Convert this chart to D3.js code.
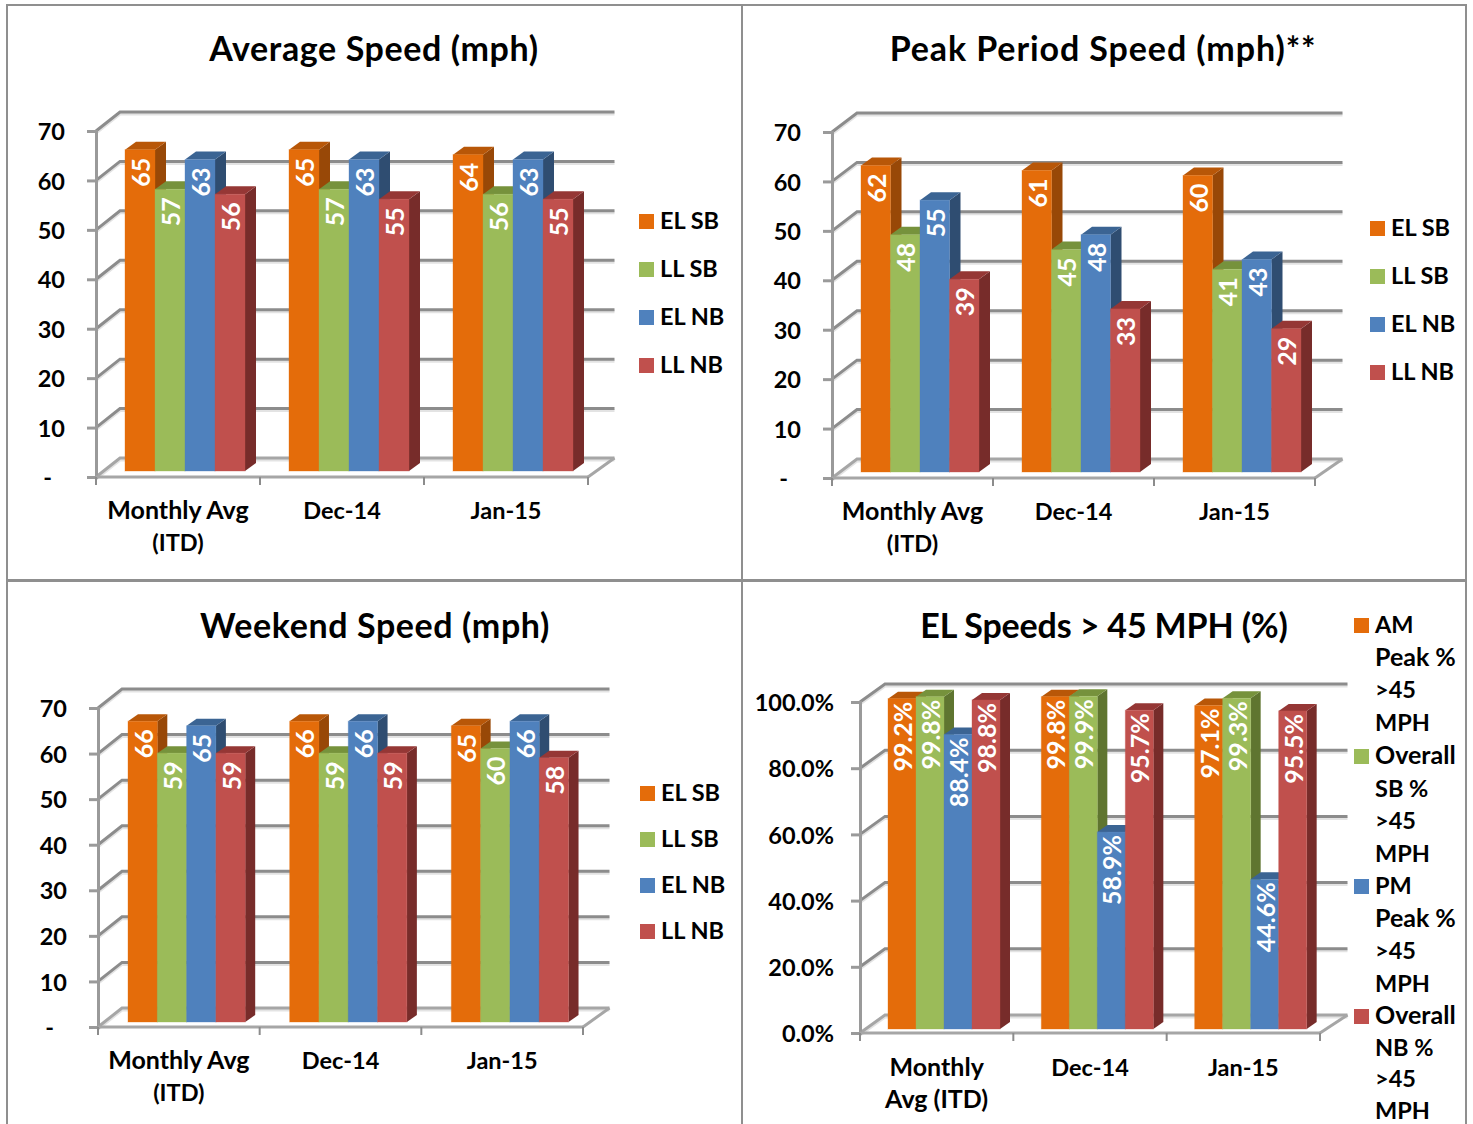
<!DOCTYPE html>
<html>
<head>
<meta charset="utf-8">
<script src="https://cdn.jsdelivr.net/npm/d3@7"></script>
<style>
  body { margin: 0; background: #fff; }
  svg { display: block; }
  text { font-family: Lato, "Open Sans", sans-serif; font-weight: 700; }
</style>
</head>
<body>
<script>
// Chart values
const speedSeries = ["EL SB", "LL SB", "EL NB", "LL NB"];
const pctSeries = ["AM Peak % >45 MPH", "Overall SB % >45 MPH", "PM Peak % >45 MPH", "Overall NB % >45 MPH"];
const months = ["Monthly Avg|(ITD)", "Dec-14", "Jan-15"];
const pctMonths = ["Monthly|Avg (ITD)", "Dec-14", "Jan-15"];

const avgSpeed = [[65, 57, 63, 56], [65, 57, 63, 55], [64, 56, 63, 55]];
const peakSpeed = [[62, 48, 55, 39], [61, 45, 48, 33], [60, 41, 43, 29]];
const weekendSpeed = [[66, 59, 65, 59], [66, 59, 66, 59], [65, 60, 66, 58]];
const elPct = [[99.2, 99.8, 88.4, 98.8], [99.8, 99.9, 58.9, 95.7], [97.1, 99.3, 44.6, 95.5]];

const speedTicks = [0, 10, 20, 30, 40, 50, 60, 70];
const pctTicks = [0, 20, 40, 60, 80, 100];

const colors = [
  { front: "#e46c0a", top: "#b85708", side: "#984807" },
  { front: "#9bbb59", top: "#76923c", side: "#5f7530" },
  { front: "#4f81bd", top: "#3b6493", side: "#2f4d71" },
  { front: "#c0504d", top: "#953735", side: "#772c2a" }
];

// lato runs narrow on lowercase words compared to the original font
const labelSize = line => /[a-z]/.test(line) && !/\d/.test(line) ? 25 : 23.5;

const svg = d3.select("body").append("svg")
    .attr("width", 1473)
    .attr("height", 1124);

// panel frames
const frames = [[7, 5, 735, 575], [742, 5, 724, 575], [7, 581, 735, 560], [742, 581, 724, 560]];
svg.selectAll(".frame")
  .data(frames)
  .join("rect")
    .attr("class", "frame")
    .attr("x", d => d[0])
    .attr("y", d => d[1])
    .attr("width", d => d[2])
    .attr("height", d => d[3])
    .attr("fill", "none")
    .attr("stroke", "#8f8f8f")
    .attr("stroke-width", 2);

function drawPanel(p) {
  const g = svg.append("g");

  const x = d3.scaleBand().domain(p.cats).range([p.x0, p.x1]);
  const y = d3.scaleLinear().domain([0, p.max]).range([p.y0, p.yTop]);
  const inner = d3.scaleBand().domain(p.series)
      .range([p.barStart, p.barStart + p.barW * 4]);

  // back wall, side wall grid
  const grid = g.append("g");
  const backEnd = p.x1 + p.dx + 2.5;
  p.ticks.forEach(t => {
    const yy = y(t);
    grid.append("path")
        .attr("d", d3.line()([[p.x0, yy + 2], [p.x0 + p.dx, yy - p.dy + 2], [backEnd, yy - p.dy + 2]]))
        .attr("fill", "none")
        .attr("stroke", "#e3e3e3")
        .attr("stroke-width", 3);
    grid.append("path")
        .attr("d", d3.line()([[p.x0, yy], [p.x0 + p.dx, yy - p.dy], [backEnd, yy - p.dy]]))
        .attr("fill", "none")
        .attr("stroke", t === 0 ? "#a6a6a6" : "#8c8c8c")
        .attr("stroke-width", 3);
  });

  // floor edges
  grid.append("path")
      .attr("d", d3.line()([[p.x1, p.y0], [backEnd, p.y0 - p.dy]]))
      .attr("fill", "none")
      .attr("stroke", "#a6a6a6")
      .attr("stroke-width", 3);

  // bars
  p.values.forEach((row, i) => {
    row.forEach((v, j) => {
      const bx = x(p.cats[i]) + inner(p.series[j]);
      const w = inner.bandwidth();
      const top = y(v) - p.barLift;
      const base = y(0) - p.baseLift;
      const c = colors[j];

      g.append("polygon")
          .attr("points", [[bx + w, top], [bx + w + p.depthX, top - p.depthY], [bx + w + p.depthX, base - p.depthY], [bx + w, base]].join(" "))
          .attr("fill", c.side);
      g.append("polygon")
          .attr("points", [[bx, top], [bx + p.depthX, top - p.depthY], [bx + w + p.depthX, top - p.depthY], [bx + w, top]].join(" "))
          .attr("fill", c.top);
      g.append("rect")
          .attr("x", bx)
          .attr("y", top)
          .attr("width", w)
          .attr("height", base - top)
          .attr("fill", c.front)
          .attr("stroke", c.front)
          .attr("stroke-opacity", 0.35);

      g.append("text")
          .attr("transform", `translate(${bx + w / 2},${top + p.labelGap}) rotate(-90)`)
          .attr("text-anchor", "end")
          .attr("dominant-baseline", "central")
          .attr("fill", "#fff")
          .style("font-size", p.labelSize + "px")
          .text(p.fmt(v));
    });
  });

  // y axis
  const yAxis = g.append("g")
      .attr("transform", `translate(${p.x0},0)`)
      .call(d3.axisLeft(y)
        .tickValues(p.ticks)
        .tickSize(9)
        .tickPadding(p.tickPad)
        .tickFormat(p.tickFmt));
  yAxis.selectAll("path, line")
      .attr("stroke", "#9a9a9a")
      .attr("stroke-width", 3);
  yAxis.selectAll("text")
      .attr("fill", "#000")
      .style("font-family", "Lato")
      .style("font-weight", 700)
      .style("font-size", "23.5px")
      .attr("dy", "0.37em")
      .attr("dx", d => (d === 0 && p.max === 70) ? -13 : 0);

  // x axis line and ticks at band edges
  g.append("line")
      .attr("x1", p.x0).attr("x2", p.x1)
      .attr("y1", p.y0).attr("y2", p.y0)
      .attr("stroke", "#a6a6a6")
      .attr("stroke-width", 3);
  g.selectAll(".edge")
    .data(d3.range(p.cats.length + 1))
    .join("line")
      .attr("x1", d => p.x0 + d * x.step())
      .attr("x2", d => p.x0 + d * x.step())
      .attr("y1", p.y0)
      .attr("y2", p.y0 + 8)
      .attr("stroke", "#8c8c8c")
      .attr("stroke-width", 2);

  // category labels
  p.cats.forEach(cat => {
    cat.split("|").forEach((line, i) => {
      g.append("text")
          .attr("x", x(cat) + x.bandwidth() / 2)
          .attr("y", p.catY + i * 32)
          .attr("text-anchor", "middle")
          .attr("fill", "#000")
          .style("font-size", labelSize(line) + "px")
          .text(line);
    });
  });

  // title
  g.append("text")
      .attr("x", p.titleX)
      .attr("y", p.titleY)
      .attr("text-anchor", "middle")
      .attr("fill", "#000")
      .style("font-size", "34px")
      .style("letter-spacing", p.titleSpacing + "px")
      .text(p.title);

  // legend
  p.legend.forEach((item, i) => {
    g.append("rect")
        .attr("x", p.legendX)
        .attr("y", item.y - 7)
        .attr("width", 15)
        .attr("height", 15)
        .attr("fill", colors[i].front);
    item.lines.forEach((line, k) => {
      g.append("text")
          .attr("x", p.legendX + 21)
          .attr("y", item.y + 8 + k * (item.gap || 32.6))
          .attr("fill", "#000")
          .style("font-size", labelSize(line) + "px")
          .text(line);
    });
  });
}

const speedFmt = d => d;
const speedTick = d => d === 0 ? "-" : d;
const speedLegend = ys => speedSeries.map((s, i) => ({ y: ys[i], lines: [s] }));

drawPanel({
  title: "Average Speed (mph)", titleX: 374, titleY: 61, titleSpacing: 0.6,
  cats: months, series: speedSeries, values: avgSpeed, ticks: speedTicks, max: 70,
  x0: 96, x1: 588, y0: 477, yTop: 131, dx: 24, dy: 19,
  barStart: 29, barW: 30, barLift: 6, baseLift: 6, depthX: 11, depthY: 8,
  labelGap: 8, labelSize: 25, tickPad: 22, fmt: speedFmt, tickFmt: speedTick,
  catY: 519, legendX: 639, legend: speedLegend([221, 269, 317, 365])
});

drawPanel({
  title: "Peak Period Speed (mph)**", titleX: 1103, titleY: 61, titleSpacing: 0.9,
  cats: months, series: speedSeries, values: peakSpeed, ticks: speedTicks, max: 70,
  x0: 832, x1: 1315, y0: 478, yTop: 132, dx: 25, dy: 19,
  barStart: 29, barW: 29.5, barLift: 6, baseLift: 6, depthX: 11, depthY: 8,
  labelGap: 8, labelSize: 25, tickPad: 22, fmt: speedFmt, tickFmt: speedTick,
  catY: 520, legendX: 1370, legend: speedLegend([228, 276, 324, 372])
});

drawPanel({
  title: "Weekend Speed (mph)", titleX: 375, titleY: 638, titleSpacing: 0.6,
  cats: months, series: speedSeries, values: weekendSpeed, ticks: speedTicks, max: 70,
  x0: 98, x1: 583, y0: 1027, yTop: 708, dx: 24, dy: 19,
  barStart: 30, barW: 29.3, barLift: 5, baseLift: 5, depthX: 10, depthY: 7,
  labelGap: 8, labelSize: 25, tickPad: 22, fmt: speedFmt, tickFmt: speedTick,
  catY: 1069, legendX: 640, legend: speedLegend([793, 839, 885, 931])
});

drawPanel({
  title: "EL Speeds > 45 MPH (%)", titleX: 1104, titleY: 638, titleSpacing: -0.15,
  cats: pctMonths, series: pctSeries, values: elPct, ticks: pctTicks, max: 100,
  x0: 860, x1: 1320, y0: 1033, yTop: 702, dx: 25, dy: 18,
  barStart: 28, barW: 28, barLift: 6, baseLift: 4, depthX: 10, depthY: 7,
  labelGap: 3, labelSize: 25, tickPad: 17, fmt: d => d.toFixed(1) + "%", tickFmt: d => d.toFixed(1) + "%",
  catY: 1076, legendX: 1354,
  legend: [
    { y: 625, lines: ["AM", "Peak %", ">45", "MPH"] },
    { y: 756, lines: ["Overall", "SB %", ">45", "MPH"] },
    { y: 886, lines: ["PM", "Peak %", ">45", "MPH"] },
    { y: 1016, gap: 31.5, lines: ["Overall", "NB %", ">45", "MPH"] }
  ]
});
</script>
</body>
</html>
